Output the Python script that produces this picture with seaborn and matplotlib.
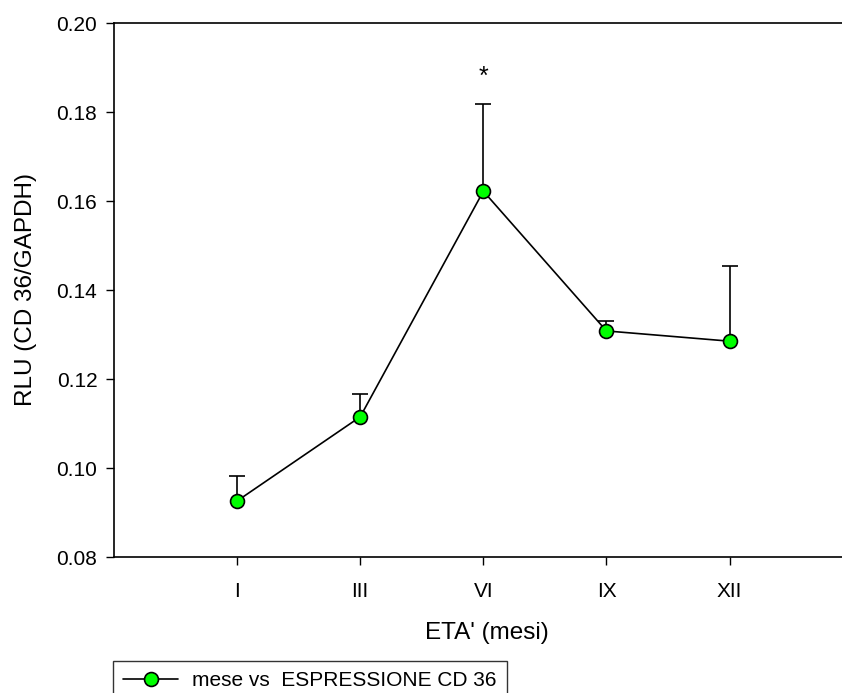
import numpy as np
import pandas as pd
import matplotlib
matplotlib.use("Agg")
import matplotlib.pyplot as plt
import seaborn as sns

# Expression of CD 36 by age (months)
months = ["I", "III", "VI", "IX", "XII"]
mean_rlu = [0.0926, 0.1115, 0.1622, 0.1308, 0.1285]
upper_err = [0.0056, 0.0051, 0.0196, 0.0022, 0.0169]
series_label = "mese vs  ESPRESSIONE CD 36"

sns.set_style("ticks")
plt.rcParams["font.family"] = ["Liberation Sans", "DejaVu Sans"]
plt.rcParams.update({"text.color": "black", "axes.labelcolor": "black",
                     "xtick.color": "black", "ytick.color": "black"})

df = pd.DataFrame({"pos": np.arange(len(months)), "rlu": mean_rlu})

fig = plt.figure(figsize=(8.42, 6.93), dpi=100)
ax = fig.add_axes([114 / 842, 1 - 557 / 693, 1 - 114 / 842 + 0.02, (557 - 23) / 693])

# upper-only error bars
eb = ax.errorbar(df["pos"], df["rlu"], yerr=[np.zeros(len(months)), upper_err],
                 fmt="none", ecolor="black", elinewidth=1.2, capsize=6,
                 capthick=1.2, zorder=1)
# hide the caps drawn at the lower (zero-length) end
eb[1][0].set_visible(False)

sns.lineplot(data=df, x="pos", y="rlu", ax=ax, color="black", linewidth=1.2,
             marker="o", markersize=10, markerfacecolor="#00ff00",
             markeredgecolor="black", markeredgewidth=1.2, label=series_label,
             zorder=2, legend=False)

# significance mark
ax.text(2, mean_rlu[2] + upper_err[2] + 0.006, "*", ha="center", va="center",
        fontsize=18)

ax.set_xlim(-1, 5.05)
ax.set_ylim(0.08, 0.20)
ax.set_yticks([0.08, 0.10, 0.12, 0.14, 0.16, 0.18, 0.20])
ax.set_yticklabels([f"{v:.2f}" for v in ax.get_yticks()])
ax.set_xticks(df["pos"])
ax.set_xticklabels(months)
ax.tick_params(axis="both", labelsize=15, length=6, width=1, color="black",
               labelcolor="black", direction="out")
ax.tick_params(axis="y", pad=6)
ax.tick_params(axis="x", pad=12)
for side in ["left", "top", "bottom"]:
    ax.spines[side].set_visible(True)
    ax.spines[side].set_color("black")
    ax.spines[side].set_linewidth(1.2)
ax.spines["right"].set_visible(False)

ax.set_xlabel("ETA' (mesi)", fontsize=17.5, labelpad=15, color="black")
ax.set_ylabel("RLU (CD 36/GAPDH)", fontsize=17.5, labelpad=14, color="black")

handles, labels = ax.get_legend_handles_labels()
leg = fig.legend(handles, labels, loc="upper left",
                 bbox_to_anchor=(113 / 842, 1 - 661 / 693),
                 bbox_transform=fig.transFigure, frameon=True, fancybox=False,
                 edgecolor="black", fontsize=15, handlelength=2.6,
                 handletextpad=0.7, borderpad=0.5, borderaxespad=0)
leg.get_frame().set_linewidth(1.0)
for t in leg.get_texts():
    t.set_color("black")

fig.savefig("out.png", dpi=100)
